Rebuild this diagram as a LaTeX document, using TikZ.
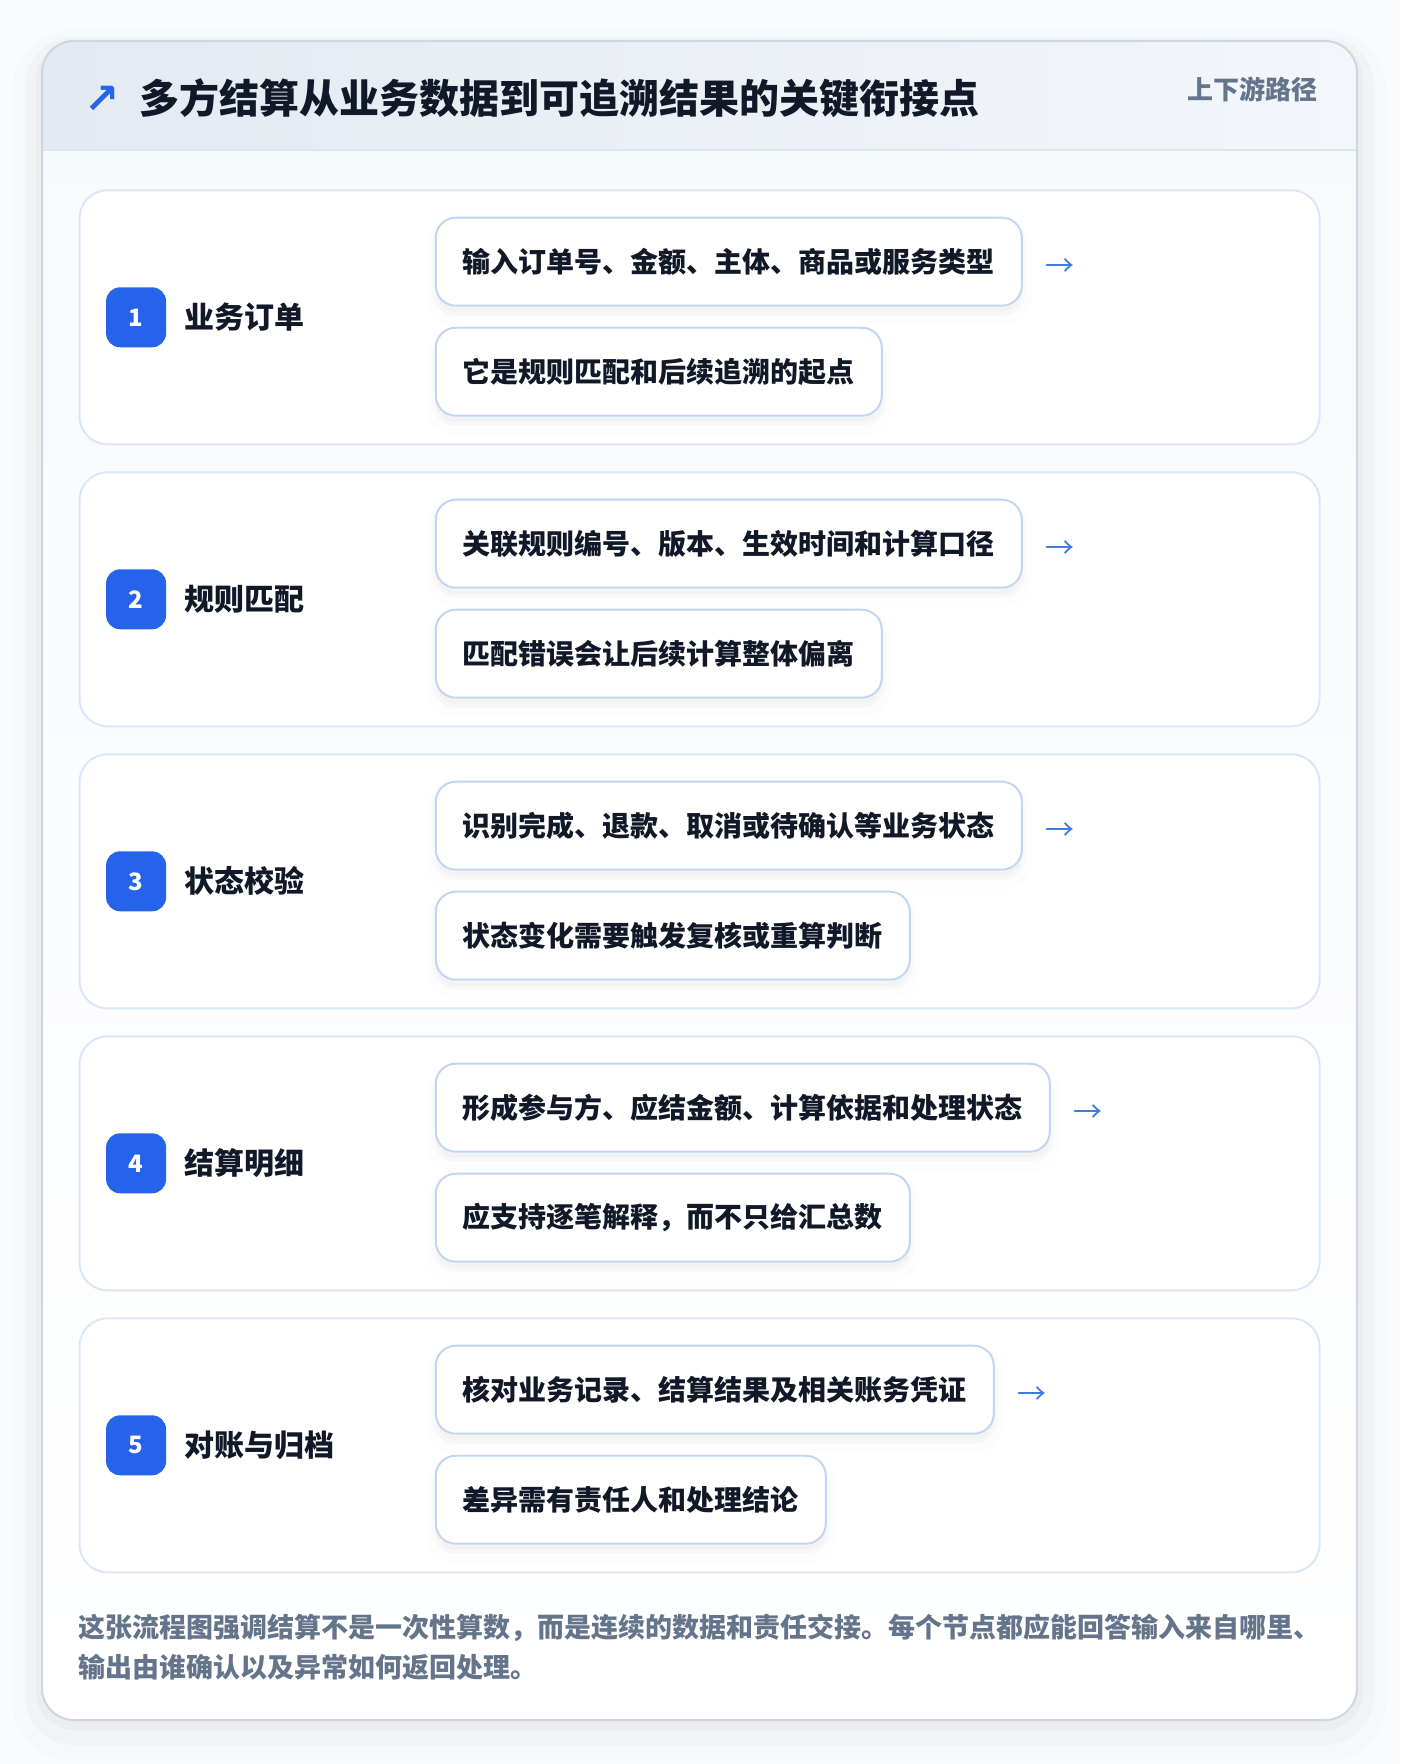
\documentclass[tikz,border=0pt]{standalone}
\usepackage{fontspec}
\setmainfont{Noto Sans CJK SC}
\newfontfamily\symfont{DejaVu Sans}
\usetikzlibrary{positioning,shadows}
\definecolor{pagebg}{HTML}{FAFBFC}
\definecolor{framefill}{HTML}{F7F9FC}
\definecolor{framec}{HTML}{CDD6E2}
\definecolor{hdrl}{HTML}{E4EAF2}
\definecolor{hdrr}{HTML}{F3F6FA}
\definecolor{hdrline}{HTML}{DBE6F4}
\definecolor{cardline}{HTML}{DAE7F8}
\definecolor{boxline}{HTML}{C2D6F2}
\definecolor{badgeblue}{HTML}{2563EB}
\definecolor{ink}{HTML}{111827}
\definecolor{muted}{HTML}{64748B}
\definecolor{arrowblue}{HTML}{3B7BE0}
\tikzset{
        % Step cards
        stepcard/.style={draw=cardline, line width=2pt, fill=white, rounded corners=28pt, minimum width=1240pt, minimum height=254pt},
        % Number badges
        badge/.style={fill=badgeblue, rounded corners=14pt, minimum size=60pt, inner sep=0pt, text=white, font=\fontsize{24}{28}\selectfont\bfseries},
        % Step names
        steplabel/.style={inner sep=0pt, text=ink, font=\fontsize{30}{36}\selectfont\bfseries},
        % Fact boxes
        factbox/.style={draw=boxline, line width=2pt, fill=white, rounded corners=20pt, inner xsep=27pt, minimum height=88pt, text=ink, font=\fontsize{28}{34}\selectfont\bfseries,
                general shadow={shadow yshift=-10pt, fill=black, draw=black, line width=20pt, opacity=0.009},
                general shadow={shadow yshift=-6pt, fill=black, draw=black, line width=8pt, opacity=0.016}},
        % Arrows to the next step
        nextarrow/.style={inner sep=0pt, text=arrowblue, font=\fontsize{29}{30}\selectfont},
        titletext/.style={inner sep=0pt, text=ink, font=\fontsize{40}{46}\selectfont\bfseries},
        tagtext/.style={inner sep=0pt, text=muted, font=\fontsize{26}{30}\selectfont\bfseries},
        notetext/.style={inner sep=0pt, text width=1270pt, align=left, text=muted, font=\fontsize{27}{40}\selectfont\bfseries}
}
\begin{document}
\begin{tikzpicture}[x=1pt, y=-1pt]
    \useasboundingbox (0,0) rectangle (1400,1764);
    \fill[pagebg] (0,0) rectangle (1400,1764);
    % frame with its shadow
    \draw[black, opacity=0.012, line width=60pt, rounded corners=32pt] (42,60) rectangle (1357,1732);
    \draw[black, opacity=0.018, line width=34pt, rounded corners=32pt] (42,54) rectangle (1357,1728);
    \draw[black, opacity=0.024, line width=12pt, rounded corners=32pt] (42,48) rectangle (1357,1724);
    \fill[top color=framefill, bottom color=white, rounded corners=32pt] (42,41) rectangle (1357,1720);
    \begin{scope}
        \clip[rounded corners=32pt] (42,41) rectangle (1357,1720);
        \fill[left color=hdrl, right color=hdrr] (42,41) rectangle (1357,150);
    \end{scope}
    \draw[hdrline, line width=2pt] (42,150) -- (1357,150);
    \draw[framec, line width=2pt, rounded corners=32pt] (42,41) rectangle (1357,1720);

    % header
    \node[inner sep=0pt, text=badgeblue, font=\symfont\bfseries\fontsize{42}{44}\selectfont] (mark) at (102,100) {↗};
    \node[titletext, anchor=west] (title) at (139,98) {多方结算从业务数据到可追溯结果的关键衔接点};
    \node[tagtext, anchor=east] (tag) at (1318,89) {上下游路径};

    % step 1
    \node[stepcard] (c1) at (699.5,317.3) {};
    \node[badge, right=27.4pt of c1.west] (n1) {1};
    \node[steplabel, right=18pt of n1] (l1) {业务订单};
    \node[factbox, anchor=west] (a1) at ([xshift=356.3pt,yshift=55.6pt]c1.west) {输入订单号、金额、主体、商品或服务类型};
    \node[factbox, below=20pt of a1.south west, anchor=north west] (b1) {它是规则匹配和后续追溯的起点};
    \node[nextarrow, right=22pt of a1, yshift=-6pt] (r1) {→};

    % step 2
    \node[stepcard] (c2) at (699.5,599.3) {};
    \node[badge, right=27.4pt of c2.west] (n2) {2};
    \node[steplabel, right=18pt of n2] (l2) {规则匹配};
    \node[factbox, anchor=west] (a2) at ([xshift=356.3pt,yshift=55.6pt]c2.west) {关联规则编号、版本、生效时间和计算口径};
    \node[factbox, below=20pt of a2.south west, anchor=north west] (b2) {匹配错误会让后续计算整体偏离};
    \node[nextarrow, right=22pt of a2, yshift=-6pt] (r2) {→};

    % step 3
    \node[stepcard] (c3) at (699.5,881.3) {};
    \node[badge, right=27.4pt of c3.west] (n3) {3};
    \node[steplabel, right=18pt of n3] (l3) {状态校验};
    \node[factbox, anchor=west] (a3) at ([xshift=356.3pt,yshift=55.6pt]c3.west) {识别完成、退款、取消或待确认等业务状态};
    \node[factbox, below=20pt of a3.south west, anchor=north west] (b3) {状态变化需要触发复核或重算判断};
    \node[nextarrow, right=22pt of a3, yshift=-6pt] (r3) {→};

    % step 4
    \node[stepcard] (c4) at (699.5,1163.3) {};
    \node[badge, right=27.4pt of c4.west] (n4) {4};
    \node[steplabel, right=18pt of n4] (l4) {结算明细};
    \node[factbox, anchor=west] (a4) at ([xshift=356.3pt,yshift=55.6pt]c4.west) {形成参与方、应结金额、计算依据和处理状态};
    \node[factbox, below=20pt of a4.south west, anchor=north west] (b4) {应支持逐笔解释，而不只给汇总数};
    \node[nextarrow, right=22pt of a4, yshift=-6pt] (r4) {→};

    % step 5
    \node[stepcard] (c5) at (699.5,1445.3) {};
    \node[badge, right=27.4pt of c5.west] (n5) {5};
    \node[steplabel, right=18pt of n5] (l5) {对账与归档};
    \node[factbox, anchor=west] (a5) at ([xshift=356.3pt,yshift=55.6pt]c5.west) {核对业务记录、结算结果及相关账务凭证};
    \node[factbox, below=20pt of a5.south west, anchor=north west] (b5) {差异需有责任人和处理结论};
    \node[nextarrow, right=22pt of a5, yshift=-6pt] (r5) {→};

    % closing note
    \node[notetext, anchor=north west] (note) at (78,1614) {这张流程图强调结算不是一次性算数，而是连续的数据和责任交接。每个节点都应能回答输入来自哪里、\\输出由谁确认以及异常如何返回处理。};
\end{tikzpicture}
\end{document}
